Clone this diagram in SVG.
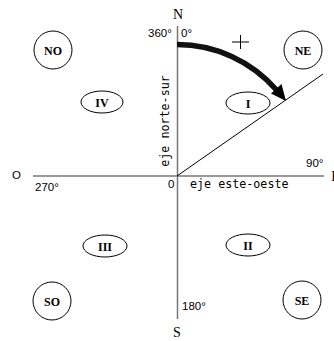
<svg xmlns="http://www.w3.org/2000/svg" width="334" height="341" viewBox="0 0 334 341">
<style>
.node{fill:#fff;stroke:#000;stroke-width:1}
.lbl{font-family:"Liberation Serif","Times New Roman",serif;font-size:12px;font-weight:bold;text-anchor:middle;fill:#000}
.deg{font-family:"Liberation Sans",Arial,sans-serif;font-size:11.5px;fill:#000}
.mono{font-family:"DejaVu Sans Mono",monospace;font-size:11.7px;fill:#000}
.card{font-family:"Liberation Serif","Times New Roman",serif;font-size:14px;text-anchor:middle;fill:#000}
.axis{stroke:#777;stroke-width:1.5;fill:none}
</style>
<rect width="334" height="341" fill="#fff"/>
<g id="connectors">
  <line class="axis" x1="177.5" y1="26" x2="177.5" y2="319"/>
  <line class="axis" x1="33" y1="176" x2="324" y2="176"/>
  <line x1="177" y1="176" x2="323" y2="74" stroke="#000" stroke-width="1"/>
  <path d="M177,44.5 A131.5,131.5 0 0 1 276.5,90" fill="none" stroke="#111" stroke-width="5.5"/>
  <polygon points="286,101 271,93.5 281.5,84" fill="#000"/>
  <line x1="232" y1="42" x2="249" y2="42" stroke="#000" stroke-width="1"/>
  <line x1="240.5" y1="35" x2="240.5" y2="49" stroke="#000" stroke-width="1"/>
</g>
<g id="labels">
  <text class="card" x="178" y="18.5">N</text>
  <text class="card" x="177" y="337">S</text>
  <text class="card" x="335.5" y="181">E</text>
  <text class="deg" x="12" y="179">O</text>
  <text class="deg" x="148" y="37">360°</text>
  <text class="deg" x="181" y="37">0°</text>
  <text class="deg" x="306" y="167">90°</text>
  <text class="deg" x="35" y="191">270°</text>
  <text class="deg" x="182" y="310">180°</text>
  <text class="deg" x="168" y="188">0</text>
  <text class="mono" x="190" y="188">eje este-oeste</text>
  <text class="mono" transform="translate(169,121) rotate(-90)" text-anchor="middle">eje norte-sur</text>
</g>
<g id="NO"><circle class="node" cx="53" cy="50" r="19"/><text class="lbl" x="53" y="54.5">NO</text></g>
<g id="NE"><circle class="node" cx="303" cy="50" r="19"/><text class="lbl" x="303" y="54.5">NE</text></g>
<g id="SO"><circle class="node" cx="52" cy="301" r="19"/><text class="lbl" x="52" y="305.5">SO</text></g>
<g id="SE"><circle class="node" cx="302" cy="300" r="19"/><text class="lbl" x="302" y="304.5">SE</text></g>
<g id="IV"><ellipse class="node" cx="102" cy="102" rx="21" ry="11"/><text class="lbl" x="102" y="106.5">IV</text></g>
<g id="I"><ellipse class="node" cx="248" cy="103" rx="22" ry="11"/><text class="lbl" x="248" y="107.5">I</text></g>
<g id="III"><ellipse class="node" cx="105" cy="246" rx="22" ry="11"/><text class="lbl" x="105" y="250.5">III</text></g>
<g id="II"><ellipse class="node" cx="248" cy="245" rx="22" ry="11"/><text class="lbl" x="248" y="249.5">II</text></g>
</svg>
